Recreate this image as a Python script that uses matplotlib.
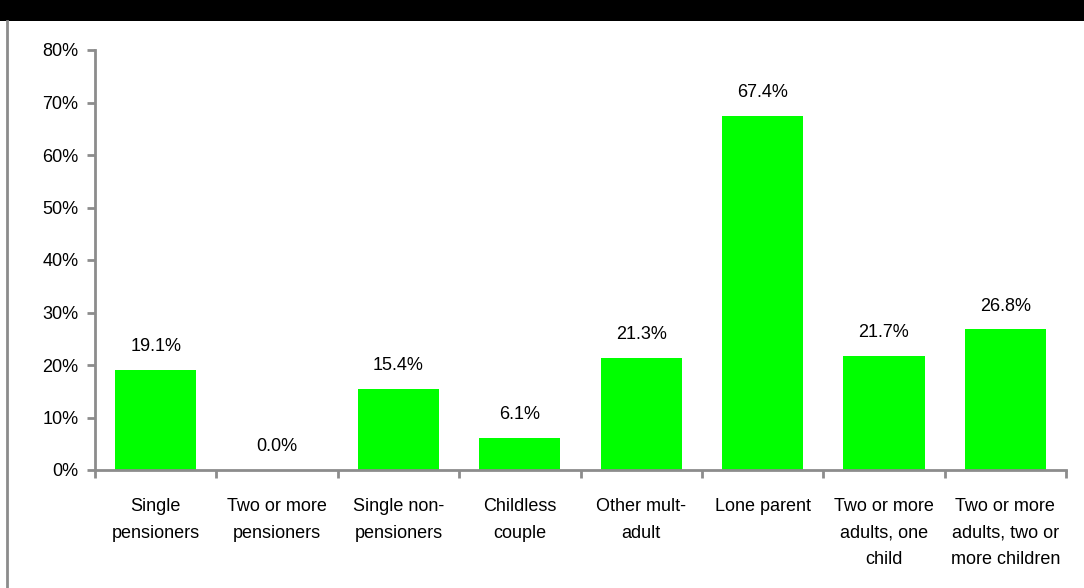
import matplotlib.pyplot as plt
from matplotlib.patches import Rectangle
from matplotlib.lines import Line2D
from matplotlib.ticker import FuncFormatter, FixedLocator

plt.rcParams['font.family'] = ['Liberation Sans', 'DejaVu Sans']

# Data
categories = ['Single\npensioners', 'Two or more\npensioners', 'Single non-\npensioners',
              'Childless\ncouple', 'Other mult-\nadult', 'Lone parent',
              'Two or more\nadults, one\nchild', 'Two or more\nadults, two or\nmore children']
values = [19.1, 0.0, 15.4, 6.1, 21.3, 67.4, 21.7, 26.8]

grey = '#8c8c8c'
fig = plt.figure(figsize=(10.84, 5.88), dpi=100)

# black title band at the top and grey frame line on the left
fig.patches.append(Rectangle((0, 1 - 21 / 588), 1, 21 / 588, transform=fig.transFigure,
                             facecolor='black', edgecolor='none'))
fig.lines.append(Line2D([7 / 1084, 7 / 1084], [0, 1 - 21 / 588], transform=fig.transFigure,
                        color=grey, lw=2))

ax = fig.add_axes([95 / 1084, (588 - 470) / 588, (1066 - 95) / 1084, 420 / 588])
x = range(len(values))
ax.bar(x, values, width=0.67, color='#00ff00')
for xi, v in zip(x, values):
    ax.text(xi, v + 2.8, f'{v:.1f}%', ha='center', va='bottom', fontsize=13)

ax.set_ylim(0, 80)
ax.set_xlim(-0.5, len(values) - 0.5)
ax.set_yticks(range(0, 81, 10))
ax.yaxis.set_major_formatter(FuncFormatter(lambda v, p: f'{v:.0f}%'))
ax.set_xticks(list(x))
ax.set_xticklabels(categories, fontsize=13, linespacing=1.75)
ax.tick_params(axis='x', length=0, pad=20)
ax.xaxis.set_minor_locator(FixedLocator([i - 0.5 for i in range(len(values) + 1)]))
ax.tick_params(axis='x', which='minor', length=6, width=2, color=grey)
ax.tick_params(axis='y', length=6, width=2, color=grey, labelsize=13, pad=6)

for s in ['top', 'right']:
    ax.spines[s].set_visible(False)
for s in ['left', 'bottom']:
    ax.spines[s].set_color(grey)
    ax.spines[s].set_linewidth(2)

fig.savefig('out.png', dpi=100)
